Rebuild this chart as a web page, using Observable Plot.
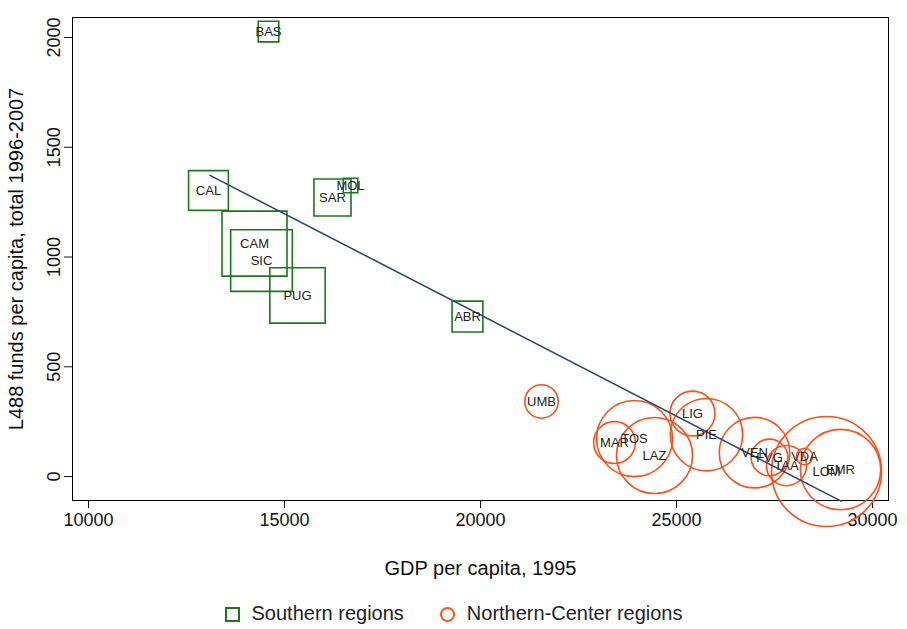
<!DOCTYPE html>
<html>
<head>
<meta charset="utf-8">
<script src="https://cdn.jsdelivr.net/npm/d3@7"></script>
<script src="https://cdn.jsdelivr.net/npm/@observablehq/plot@0.6"></script>
<style>
  body { margin: 0; background: #fff; font-family: "Liberation Sans", Arial, sans-serif; }
  #legend { display: flex; justify-content: center; gap: 36px; font-size: 20px; color: #222; margin-top: 22px; }
  #legend span.sym { display: inline-block; width: 11px; height: 11px; margin-right: 12px; vertical-align: middle; }
</style>
</head>
<body>
<div id="chart"></div>
<div id="legend">
  <div><span class="sym" style="border:2px solid #1a7a1a"></span>Southern regions</div>
  <div><span class="sym" style="border:2px solid #ff4f1a;border-radius:50%"></span>Northern-Center regions</div>
</div>
<script>
const southNames = ['BAS', 'CAL', 'MOL', 'SAR', 'CAM', 'SIC', 'PUG', 'ABR'];
const southGdp = [14592, 13061, 16684, 16224, 14235, 14413, 15332, 19668];
const southFunds = [2027, 1303, 1326, 1271, 1061, 984, 825, 729];
const southPop = [0.4, 1.5, 0.2, 1.3, 4.0, 3.6, 2.9, 0.9];

const northNames = ['UMB', 'MAR', 'TOS', 'LAZ', 'LIG', 'PIE', 'VEN', 'FVG', 'TAA', 'VDA', 'LOM', 'EMR'];
const northGdp = [21556, 23418, 23929, 24439, 25408, 25765, 26990, 27372, 27806, 28265, 28827, 29184];
const northFunds = [342, 155, 173, 96, 287, 191, 109, 87, 50, 91, 23, 32];
const northPop = [0.83, 1.3, 4.3, 4.3, 1.5, 3.9, 3.7, 1.0, 1.2, 0.2, 9.0, 4.8];

const fitGdp = [13100, 29200];
const fitFunds = [1372, -112];

const xTicks = [10000, 15000, 20000, 25000, 30000];
const yTicks = [0, 500, 1000, 1500, 2000];

const south = southNames.map((n, i) => ({name: n, gdp: southGdp[i], funds: southFunds[i], pop: southPop[i]}));
const north = northNames.map((n, i) => ({name: n, gdp: northGdp[i], funds: northFunds[i], pop: northPop[i]}));
const fit = fitGdp.map((g, i) => ({gdp: g, funds: fitFunds[i]}));

const chart = Plot.plot({
  width: 907,
  height: 580,
  marginTop: 17,
  marginRight: 19,
  marginBottom: 80,
  marginLeft: 72,
  style: {fontFamily: '"Liberation Sans", Arial, sans-serif', fontSize: '18px', color: '#111'},
  x: {domain: [9592, 30408], ticks: xTicks, tickFormat: d => String(d), tickSize: 8, tickPadding: 5, label: 'GDP per capita, 1995', labelAnchor: 'center', labelArrow: false, labelOffset: 74},
  y: {domain: [-109, 2091], ticks: yTicks, tickFormat: d => String(d), tickSize: 8, tickRotate: -90, tickPadding: 5, label: 'L488 funds per capita, total 1996-2007', labelAnchor: 'center', labelArrow: false, labelOffset: 64},
  r: {domain: [0, 9], range: [0, 55]},
  marks: [
    Plot.frame({stroke: '#000'}),
    Plot.dot(south, {x: 'gdp', y: 'funds', r: 'pop', symbol: 'square', stroke: '#1a7a1a', strokeWidth: 1.6}),
    Plot.dot(north, {x: 'gdp', y: 'funds', r: 'pop', symbol: 'circle', stroke: '#ff4f1a', strokeWidth: 1.6}),
    Plot.line(fit, {x: 'gdp', y: 'funds', stroke: '#2b4a6f', strokeWidth: 1.6}),
    Plot.text(south.concat(north), {x: 'gdp', y: 'funds', text: 'name', fontSize: 13, fill: '#222'})
  ]
});
chart.querySelectorAll('[aria-label="x-axis label"] text, [aria-label="y-axis label"] text').forEach(t => t.style.fontSize = '20px');
document.getElementById('chart').append(chart);
</script>
</body>
</html>
